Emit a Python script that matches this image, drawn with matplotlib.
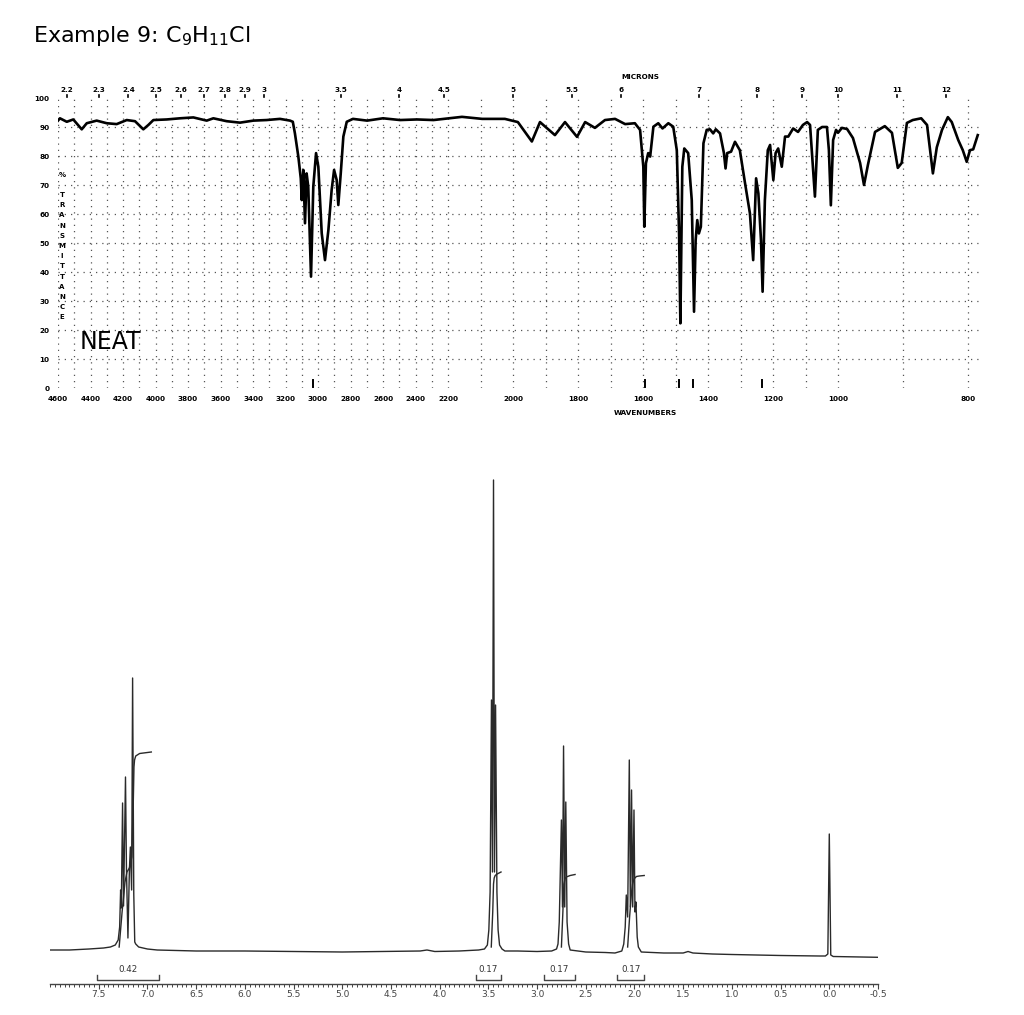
import numpy as np
import matplotlib
matplotlib.use('Agg')
import matplotlib.pyplot as plt
import matplotlib.transforms as mtransforms

# ---------------- IR spectrum ----------------
ir_wavenumber = [4600, 4588, 4546, 4506, 4454, 4423, 4362, 4300, 4239, 4177, 4126, 4075,
                 4044, 4013, 3931, 3849, 3767, 3685, 3644, 3562, 3480, 3398, 3316, 3234,
                 3172, 3155, 3142, 3121, 3106, 3100, 3090, 3080, 3070, 3060, 3043, 3029,
                 3012, 2998, 2977, 2957, 2936, 2916, 2901, 2885, 2875, 2860, 2844, 2823,
                 2785, 2698, 2600, 2495, 2391, 2289, 2157, 2095, 2025, 1985, 1942, 1917,
                 1871, 1840, 1803, 1778, 1748, 1717, 1686, 1655, 1625, 1609, 1599, 1596,
                 1591, 1584, 1578, 1568, 1553, 1540, 1522, 1507, 1496, 1489, 1485, 1479,
                 1473, 1461, 1450, 1443, 1438, 1433, 1428, 1422, 1414, 1404, 1394, 1384,
                 1376, 1363, 1351, 1346, 1341, 1329, 1317, 1302, 1286, 1271, 1261, 1252,
                 1245, 1237, 1232, 1225, 1216, 1209, 1199, 1192, 1184, 1173, 1163, 1153,
                 1138, 1123, 1108, 1095, 1086, 1078, 1071, 1062, 1049, 1034, 1028, 1022,
                 1015, 1006, 1000, 994, 986, 977, 966, 960, 954, 943, 928, 917,
                 908, 902, 894, 885, 872, 863, 854, 848, 840, 831, 825, 815,
                 808, 802, 797, 792, 785]
ir_transmittance = [92.2, 93.0, 91.8, 92.6, 89.2, 91.3, 92.2, 91.3, 91.0, 92.4, 92.0, 89.2,
                    90.7, 92.4, 92.6, 93.0, 93.3, 92.2, 93.0, 92.0, 91.5, 92.2, 92.4, 92.8,
                    92.2, 91.8, 87.8, 79.8, 72.3, 64.8, 75.2, 56.8, 74.0, 69.4, 38.4, 69.4,
                    81.0, 76.3, 53.3, 44.1, 54.5, 68.3, 75.2, 71.7, 63.1, 74.0, 86.7, 91.8,
                    92.8, 92.2, 93.0, 92.4, 92.6, 92.4, 93.5, 92.8, 92.8, 91.7, 85.0, 91.7,
                    87.2, 91.7, 86.6, 91.7, 89.7, 92.4, 92.8, 91.0, 91.3, 89.0, 76.3, 55.6,
                    77.5, 81.0, 79.8, 90.1, 91.3, 89.5, 91.3, 90.1, 82.0, 53.3, 22.3, 76.3,
                    82.6, 81.0, 64.8, 26.3, 51.0, 57.9, 53.3, 55.6, 84.4, 89.0, 89.2, 87.8,
                    89.2, 87.8, 81.0, 75.7, 81.0, 81.5, 84.9, 82.0, 70.6, 60.2, 44.1, 72.3,
                    67.1, 51.0, 33.2, 64.8, 82.0, 83.8, 71.7, 81.0, 82.6, 76.3, 86.7, 86.7,
                    89.5, 88.3, 90.7, 91.7, 90.7, 77.6, 66.0, 89.0, 90.0, 90.0, 82.0, 63.0,
                    85.5, 89.0, 88.0, 89.7, 89.3, 86.2, 77.6, 70.0, 76.9, 88.3, 90.3, 88.0,
                    75.9, 77.6, 91.4, 92.4, 93.0, 90.7, 74.0, 83.0, 89.0, 93.4, 91.7, 85.5,
                    82.0, 78.0, 82.0, 82.3, 87.2]
ir_tick_values = [4600, 4400, 4200, 4000, 3800, 3600, 3400, 3200, 3000, 2800, 2600,
                  2400, 2200, 2000, 1800, 1600, 1400, 1200, 1000, 800]
micron_labels = ['2.2', '2.3', '2.4', '2.5', '2.6', '2.7', '2.8', '2.9', '3', '3.5', '4',
                 '4.5', '5', '5.5', '6', '7', '8', '9', '10', '11', '12']
ir_peak_marks = [3030, 1595, 1488, 1445, 1235]

# ---------------- 1H NMR spectrum ----------------
aromatic_ppm = [8.0, 7.8, 7.6, 7.45, 7.38, 7.33, 7.30, 7.285, 7.275, 7.268, 7.255, 7.245,
                7.225, 7.215, 7.20, 7.185, 7.175, 7.162, 7.152, 7.14, 7.13, 7.12, 7.09,
                7.0, 6.9]
aromatic_int = [2, 2, 3, 4, 5, 7, 12, 25, 62, 44, 149, 46, 175, 82, 14, 82, 105, 62, 274,
                58, 10, 8, 5, 3, 2]
mid_ppm = [6.5, 6.0, 5.0, 4.2, 4.13, 4.05, 3.8, 3.6]
mid_int = [1, 1, 0, 1, 2, 0.5, 1, 2]
ch2cl_ppm = [3.54, 3.51, 3.495, 3.482, 3.468, 3.458, 3.447, 3.437, 3.426, 3.412, 3.40,
             3.385, 3.36, 3.33, 3.2, 3.0, 2.85]
ch2cl_int = [3, 7, 22, 60, 252, 80, 472, 80, 247, 60, 22, 7, 3, 1, 1, 0.5, 1]
benzyl_ppm = [2.80, 2.785, 2.772, 2.750, 2.739, 2.728, 2.716, 2.705, 2.692, 2.676, 2.66,
              2.5, 2.3, 2.2]
benzyl_int = [3, 8, 30, 132, 45, 206, 45, 150, 30, 8, 2, 0, -0.5, -1]
middle_ch2_ppm = [2.13, 2.11, 2.095, 2.084, 2.070, 2.053, 2.042, 2.030, 2.018, 2.005,
                  1.995, 1.985, 1.972, 1.96, 1.93]
middle_ch2_int = [1, 8, 25, 57, 35, 192, 45, 162, 45, 142, 40, 50, 15, 5, 0]
upfield_ppm = [1.7, 1.5, 1.45, 1.40, 1.2, 1.0, 0.5, 0.1, 0.04, 0.015, 0.0, -0.015, -0.04, -0.5]
upfield_int = [-1, -1, 0.5, -1, -2, -2.5, -3.5, -4, -4, -2, 118, -3, -4.5, -5.3]

integral_curves = [
    ([7.29, 7.26, 7.23, 7.21, 7.185, 7.16, 7.145, 7.138, 7.132, 7.12, 7.08, 6.96],
     [5, 40, 70, 80, 84, 95, 150, 185, 192, 196, 198.5, 200]),
    ([3.47, 3.455, 3.447, 3.44, 3.43, 3.41, 3.37],
     [5, 40, 68, 74, 76.5, 78, 80]),
    ([2.75, 2.735, 2.725, 2.712, 2.70, 2.66, 2.61],
     [5, 40, 68, 73.5, 75, 76.5, 77.5]),
    ([2.07, 2.05, 2.03, 2.02, 2.005, 1.98, 1.95, 1.90],
     [5, 35, 60, 68, 73, 75.5, 76, 76.5]),
]
integral_ranges = [(7.52, 6.88), (3.63, 3.37), (2.93, 2.61), (2.18, 1.90)]
integral_labels = ['0.42', '0.17', '0.17', '0.17']
nmr_tick_values = np.arange(-0.5, 7.51, 0.5)


def ir_forward(w):
    return np.interp(w, [700, 1000, 2200, 4600], [0, 195, 585, 975])


def ir_inverse(p):
    return np.interp(p, [0, 195, 585, 975], [700, 1000, 2200, 4600])


W, H = 1024, 1015
fig = plt.figure(figsize=(W / 100, H / 100), dpi=100)
fig.text(33 / W, 1 - 42 / H, 'Example 9: C$_9$H$_{11}$Cl', fontsize=16, va='baseline')

# ---------------- IR panel ----------------
ax = fig.add_axes([58 / W, 1 - 388 / H, 923 / W, 290 / H])
ax.set_xscale('function', functions=(ir_forward, ir_inverse))
ax.set_xlim(4600, 780)
ax.set_ylim(0, 100)
for s in ax.spines.values():
    s.set_visible(False)

grid_style = dict(color='#555555', lw=0.9, linestyle=(0, (1, 4)), zorder=1)
for w in range(800, 4601, 100):
    ax.axvline(w, **grid_style)
for t in range(10, 100, 10):
    ax.axhline(t, **grid_style)

ax.plot(ir_wavenumber, ir_transmittance, color='black', lw=1.9, zorder=3)

ax.set_xticks(ir_tick_values)
ax.set_xticklabels([str(v) for v in ir_tick_values])
ax.xaxis.set_minor_locator(matplotlib.ticker.NullLocator())
ax.set_yticks(range(0, 101, 10))
ax.tick_params(axis='both', length=0, labelsize=5.2)
ax.tick_params(axis='x', pad=6)
ax.tick_params(axis='y', pad=6)
for lbl in ax.get_xticklabels() + ax.get_yticklabels():
    lbl.set_fontweight('bold')

top = mtransforms.blended_transform_factory(ax.transData, ax.transAxes)
for m in micron_labels:
    w = 1e4 / float(m)
    ax.text(w, 1.028, m, transform=top, ha='center', va='center',
            fontsize=5.2, fontweight='bold')
    ax.plot([w, w], [1.003, 1.012], transform=top, color='black', lw=1.2, clip_on=False)
for w in ir_peak_marks:
    ax.plot([w, w], [0.3, 2.6], color='black', lw=1.4, clip_on=False)

fig.text(640 / W, 1 - 77 / H, 'MICRONS', ha='center', va='center',
         fontsize=5.2, fontweight='bold')
fig.text(645 / W, 1 - 413 / H, 'WAVENUMBERS', ha='center', va='center',
         fontsize=5.2, fontweight='bold')
fig.text(62 / W, 1 - 175 / H, '%', ha='center', va='center', fontsize=5, fontweight='bold')
for i, ch in enumerate('TRANSMITTANCE'):
    fig.text(62 / W, 1 - (195 + 10.2 * i) / H, ch, ha='center', va='center',
             fontsize=5, fontweight='bold')
fig.text(80 / W, 1 - 342 / H, 'NEAT', ha='left', va='center', fontsize=17)

# ---------------- NMR panel ----------------
nmr_ppm = aromatic_ppm + mid_ppm + ch2cl_ppm + benzyl_ppm + middle_ch2_ppm + upfield_ppm
nmr_int = aromatic_int + mid_int + ch2cl_int + benzyl_int + middle_ch2_int + upfield_int

bx = fig.add_axes([50 / W, 31 / H, 828 / W, 514 / H])
bx.set_xlim(8.0, -0.5)
bx.set_ylim(-32, 482)
for side in ['left', 'right', 'top']:
    bx.spines[side].set_visible(False)
bx.spines['bottom'].set_color('#444444')
bx.spines['bottom'].set_linewidth(1.0)
bx.set_yticks([])

bx.plot(nmr_ppm, nmr_int, color='#2a2a2a', lw=1.0, zorder=3)
for xs, ys in integral_curves:
    bx.plot(xs, ys, color='#2a2a2a', lw=1.0, zorder=4)

for (a, b), lab in zip(integral_ranges, integral_labels):
    bx.plot([a, a, b, b], [-23, -28, -28, -23], color='#444444', lw=1.0, clip_on=False)
    bx.text((a + b) / 2, -17, lab, ha='center', va='center', fontsize=6.3, color='#333333')

bx.set_xticks(nmr_tick_values)
bx.set_xticklabels(['%.1f' % v for v in nmr_tick_values])
bx.set_xticks(np.arange(-0.5, 8.001, 0.05), minor=True)
bx.tick_params(axis='x', which='major', length=3.5, width=0.8, color='#444444',
               labelsize=6.5, labelcolor='#444444', pad=0.5)
bx.tick_params(axis='x', which='minor', length=2.2, width=0.7, color='#444444')

fig.savefig('out.png', dpi=100)
